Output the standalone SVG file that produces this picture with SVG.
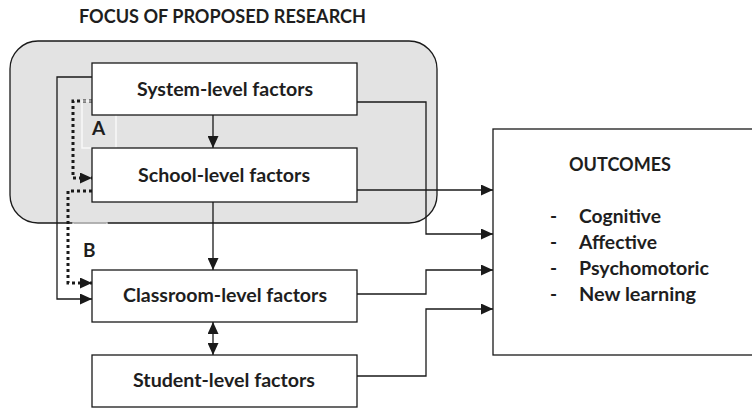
<svg xmlns="http://www.w3.org/2000/svg" width="752" height="408" viewBox="0 0 752 408">
<defs>
<style>
.box{fill:#fff;stroke:#1a1a1a;stroke-width:1.3}
.t{font-family:Lato,"Open Sans","Liberation Sans",sans-serif;font-weight:700;font-size:19px;fill:#1e1e1e}
.ln{fill:none;stroke:#1a1a1a;stroke-width:1.3}
.dot{fill:none;stroke:#1a1a1a;stroke-width:3;stroke-dasharray:3 3}
.lbl{fill:none;stroke:#fff;stroke-width:1.4;stroke-opacity:0.8}
</style>
<marker id="ah" viewBox="0 0 12 11" refX="12" refY="5.5" markerWidth="12" markerHeight="11" markerUnits="userSpaceOnUse" orient="auto-start-reverse">
<path d="M0,0 L12,5.5 L0,11 Z" fill="#1a1a1a"/>
</marker>
</defs>
<rect width="752" height="408" fill="#fff"/>
<text class="t" x="79" y="23" textLength="287" lengthAdjust="spacingAndGlyphs">FOCUS OF PROPOSED RESEARCH</text>
<g id="focus">
<rect x="10" y="41" width="427" height="182" rx="28" ry="28" fill="#e3e3e3" stroke="#1a1a1a" stroke-width="1.3"/>
</g>
<g id="connectors">
<path class="ln" d="M92,77 H57 V299 H92" marker-end="url(#ah)"/>
<path class="dot" d="M92,101 H73 V178 H92" marker-end="url(#ah)"/>
<path class="dot" d="M92,191 H68 V283 H92" marker-end="url(#ah)"/>
<path class="ln" d="M213,115 V148" marker-end="url(#ah)"/>
<path class="ln" d="M213,202 V270" marker-end="url(#ah)"/>
<path class="ln" d="M213,322 V355" marker-start="url(#ah)" marker-end="url(#ah)"/>
<path class="ln" d="M357,102 H426 V234 H493" marker-end="url(#ah)"/>
<path class="ln" d="M357,190 H493" marker-end="url(#ah)"/>
<path class="ln" d="M357,294 H426 V270 H493" marker-end="url(#ah)"/>
<path class="ln" d="M357,376 H426 V309 H493" marker-end="url(#ah)"/>
<rect class="lbl" x="82" y="101" width="34" height="47"/>
<rect class="lbl" x="73" y="223" width="34" height="47"/>
<text class="t" x="92" y="135" font-size="18">A</text>
<text class="t" x="83" y="257" font-size="18">B</text>
</g>
<g id="system">
<rect class="box" x="92" y="63" width="265" height="52"/>
<text class="t" x="137" y="96" textLength="176" lengthAdjust="spacingAndGlyphs">System-level factors</text>
</g>
<g id="school">
<rect class="box" x="92" y="148" width="265" height="54"/>
<text class="t" x="138" y="182" textLength="172" lengthAdjust="spacingAndGlyphs">School-level factors</text>
</g>
<g id="classroom">
<rect class="box" x="92" y="270" width="265" height="52"/>
<text class="t" x="123" y="302" textLength="204" lengthAdjust="spacingAndGlyphs">Classroom-level factors</text>
</g>
<g id="student">
<rect class="box" x="92" y="355" width="265" height="52"/>
<text class="t" x="133" y="387" textLength="182" lengthAdjust="spacingAndGlyphs">Student-level factors</text>
</g>
<g id="outcomes">
<rect class="box" x="493" y="129" width="275" height="226"/>
<text class="t" x="569" y="171" textLength="102" lengthAdjust="spacingAndGlyphs">OUTCOMES</text>
<text class="t" x="550" y="223" font-weight="400">-</text>
<text class="t" x="550" y="249" font-weight="400">-</text>
<text class="t" x="550" y="275" font-weight="400">-</text>
<text class="t" x="550" y="301" font-weight="400">-</text>
<text class="t" x="579" y="223" textLength="82" lengthAdjust="spacingAndGlyphs">Cognitive</text>
<text class="t" x="579" y="249" textLength="78" lengthAdjust="spacingAndGlyphs">Affective</text>
<text class="t" x="579" y="275" textLength="130" lengthAdjust="spacingAndGlyphs">Psychomotoric</text>
<text class="t" x="579" y="301" textLength="117" lengthAdjust="spacingAndGlyphs">New learning</text>
</g>
</svg>
